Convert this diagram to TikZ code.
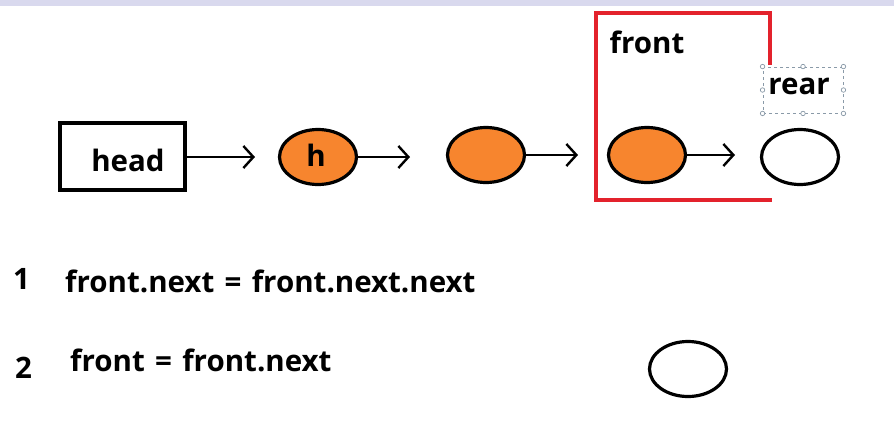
\documentclass[tikz,border=0pt]{standalone}
\usepackage{fontspec}
\setmainfont{Open Sans}
\usetikzlibrary{arrows.meta,shapes.geometric}
\definecolor{nodeorange}{HTML}{F7852E}
\definecolor{boxred}{HTML}{E3222C}
\definecolor{topband}{HTML}{D9D9EE}
\definecolor{selgray}{HTML}{8A9AA8}
\tikzset{
  lbl/.style={font=\bfseries\fontsize{29.5}{32}\selectfont, inner sep=0pt},
  elem/.style={draw=black, line width=3.2pt, ellipse, minimum width=77pt, minimum height=55pt, inner sep=0pt},
  full/.style={elem, fill=nodeorange},
  empty/.style={elem, fill=white},
  link/.style={line width=2.4pt, -{Straight Barb[length=10pt,width=22pt,line width=2.4pt]}},
  handle/.style={draw=selgray, fill=white, circle, minimum size=4.5pt, inner sep=0pt, line width=0.7pt}
}
\begin{document}
\begin{tikzpicture}[x=1pt,y=-1pt]
\useasboundingbox (0,0) rectangle (894,432);
\fill[topband] (0,0) rectangle (894,6);
% head box
\node[draw=black, line width=3.2pt, minimum width=125pt, minimum height=67pt, inner sep=0pt] (head) at (122.5,156.5) {};
\node[lbl] (headtxt) at (128,160) {head};
% nodes
\node[full] (n1) at (318,157) {};
\node[lbl] (htxt) at (316,155) {h};
\node[full] (n2) at (486,155) {};
\node[full] (n3) at (647,155) {};
\node[empty] (n4) at (800,157) {};
% links
\coordinate (t1) at (255,157);
\coordinate (t2) at (410,157);
\coordinate (t3) at (578,155);
\coordinate (t4) at (735,155);
\draw[link] (head.east |- t1) -- (t1);
\draw[link] (n1.east) -- (t2);
\draw[link] (n2.east) -- (t3);
\draw[link] (n3.east) -- (t4);
% red front box
\coordinate (r1) at (770,65);
\coordinate (r2) at (770,13);
\coordinate (r3) at (596,13);
\coordinate (r4) at (596,200);
\coordinate (r5) at (772,200);
\draw[boxred, line width=3.4pt] (r1) -- (r2) -- (r3) -- (r4) -- (r5);
\node[lbl] (front) at (647,42) {front};
% rear selection box
\node[draw=selgray, dashed, line width=0.9pt, minimum width=80pt, minimum height=46pt, inner sep=0pt] (rearbox) at (803,90) {};
\node[lbl] (rear) at (799,86) {rear};
\foreach \a in {north west,north,north east,east,south east,south,south west,west}
  \node[handle] at (rearbox.\a) {};
% statements
\node[lbl, anchor=west] (one) at (13,279) {1};
\node[lbl, anchor=west] (s1) at (65,281) {front.next\hspace{0.35em}=\hspace{0.35em}front.next.next};
\node[lbl, anchor=west] (two) at (15,368) {2};
\node[lbl, anchor=west] (s2) at (70,360) {front\hspace{0.35em}=\hspace{0.35em}front.next};
\node[empty] (n5) at (688,369) {};
\end{tikzpicture}
\end{document}
